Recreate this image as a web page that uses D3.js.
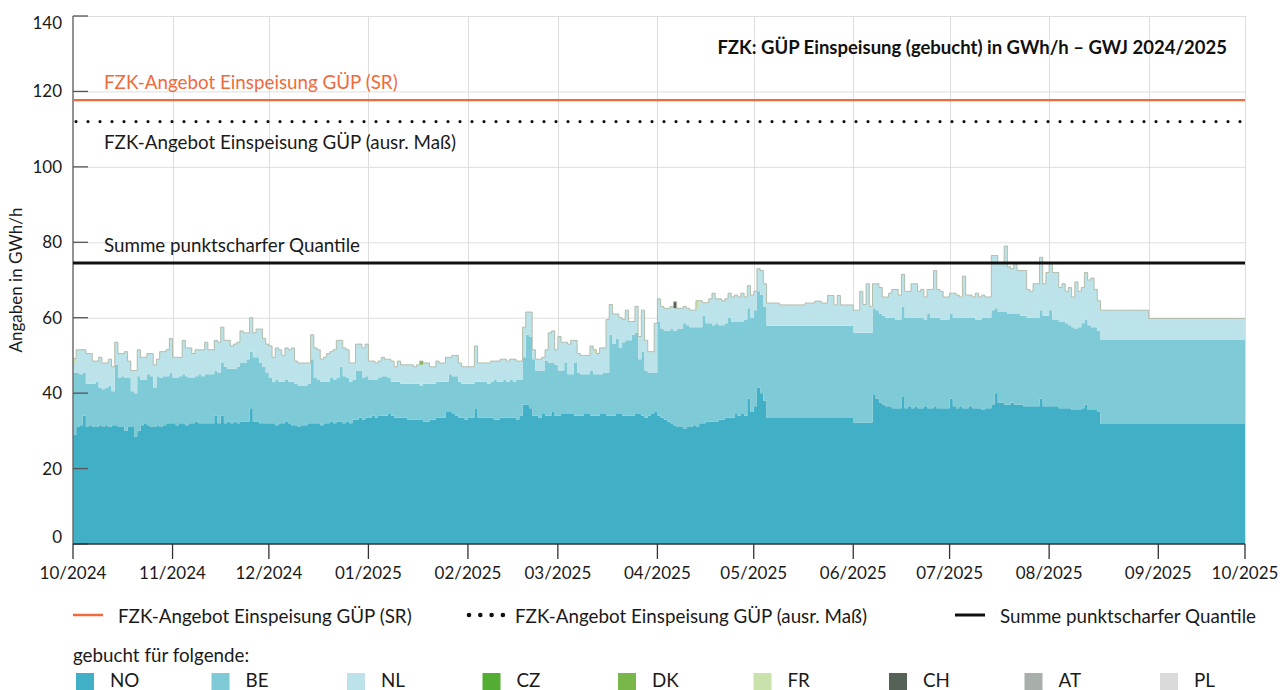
<!DOCTYPE html>
<html lang="de">
<head>
<meta charset="utf-8">
<title>FZK: GÜP Einspeisung (gebucht)</title>
<script src="https://cdn.jsdelivr.net/npm/d3@7/dist/d3.min.js"></script>
<style>
html,body{margin:0;padding:0;background:#fff;}
svg{display:block;font-family:Lato,"Open Sans",sans-serif;}
</style>
</head>
<body>
<svg id="chart" width="1283" height="690"></svg>
<script>
// ================= DATA =================
const startDay = "2024-10-01";
const endDay = "2025-10-01";

// daily booked values (GWh/h), one value per day from 2024-10-01 to 2025-09-30
const NO = [
 29,31,31.5,34,31,31.5,31,31,31.5,31,31.5,31,31.5,31.5,31,31,30,31,31,28.5,30,31.5,32,31.5,31,31,31.5,31,31.5,32,32,
 32,31.5,32,32,31.5,32,32,32.5,32,32,32,32,32,34,32,34,32,32.5,32,32.5,32,32.5,32.5,32.5,36,32.5,32.5,32,32,32,
 32,32,31.5,32,32,32.5,32,31.5,31.5,31,31.5,31.5,32,32,32,32,31.5,32,32,32.5,32,32.5,32.5,32,32.5,32,33,33,33.5,33,33.5,
 33.5,34,33.5,34,34,34,34.5,34,33.5,33.5,33.5,33.5,33,33,33,33,33,32.5,32.5,33,33,33.5,33.5,33.5,35,35,34.5,34,33.5,33.5,33,
 33.5,33.5,36,33.5,33.5,33.5,33.5,33.5,33,33,33.5,33.5,33.5,33.5,33.5,33,34,37,37,36,34,34,33.5,34.5,34,34,35,34,
 34,34.5,34.5,34.5,34.5,34,34,34,34.5,34.5,34,34,34,34.5,34.5,34,34,34,34.5,34.5,34,34,34,34,34.5,34.5,34,33.5,34,34.5,35,
 34,33.5,33,32.5,32,31.5,31,31,30.5,31,31,31.5,31,32,32,32.5,32.5,32.5,32.5,33,33,33.5,33.5,33.5,34.5,34,34.5,34,38.5,35,
 36.5,41.5,40,38,33.4,33.4,33.4,33.4,33.4,33.4,33.4,33.4,33.4,33.4,33.4,33.4,33.4,33.4,33.4,33.4,33.4,33.4,33.4,33.4,33.4,33.4,33.4,33.4,33.4,33.4,33.4,
 32.2,32.2,32.2,32.2,32.2,32.2,39.5,38.5,37.5,37,36.5,36.5,36,36,36,39,36,36.5,36,36.5,36,36,36.5,36,36,36.5,36,36,36,36,
 38.5,36.5,36,36.5,36,36,36.5,36,36,36,35.5,36,36,37,40,37.5,37.5,37,37,37.5,37,37,37,36.5,36.5,36.5,36.5,36.5,38.5,36.5,36.5,
 36.5,36.5,36.5,36,36,36,36,35.5,35.5,35.5,36,37,35.5,35.5,35.5,35,31.8,31.8,31.8,31.8,31.8,31.8,31.8,31.8,31.8,31.8,31.8,31.8,31.8,31.8,31.8,
 31.8,31.8,31.8,31.8,31.8,31.8,31.8,31.8,31.8,31.8,31.8,31.8,31.8,31.8,31.8,31.8,31.8,31.8,31.8,31.8,31.8,31.8,31.8,31.8,31.8,31.8,31.8,31.8,31.8,31.8
];
const BE = [
 16.5,14.5,13.5,11.5,11.5,11,11.5,12,10,10,10,11,9,16,13,13.5,14,13,9.5,11.5,14.5,12,11.5,13.5,13.5,10.5,13,13,13,12.5,13.5,
 12,12.5,12.5,13,13,12,12,12,13,12.5,13,13,13,12,13.5,14,15,14,14.5,14,15,15.5,15.5,16.5,15,17,17,16,15,13.5,
 12,11,12,11,11,11,11,11.5,11,11,10.5,10.5,10.5,17,12,11.5,11.5,11,11,11.5,11.5,11.5,14.5,12.5,11.5,11,10.5,13,12.5,11,11,
 10,9.5,10,10,10.5,10.5,9.5,9,9.5,9.5,9,9,9.5,9.5,9.5,9.5,9,10,10,9.5,9.5,9.5,9.5,9.5,8,10,10,10.5,9.5,9,9.5,
 9,9,7,9.5,9.5,9.5,9,9.5,10.5,10,9.5,10,9.5,10,9.5,10.5,9.5,12.5,18.5,19,15,12,12.5,11.5,14.5,14,13,13.5,
 12,11.5,13.5,10.5,10.5,14,11.5,11,10.5,10.5,12,11,11,10.5,11,11.5,21.5,19,20,17.5,19.5,20,20,21.5,21.5,14.5,17,12.5,11.5,11,10.5,
 25,23.5,23.5,24,25,25,26,26,28,27,26.5,26,26.5,25.5,28.5,26,26,25.5,26,25,25,25,26.5,25.5,24.5,25,24.5,25.5,24,25,
 25.5,25.5,26,25,24.5,24.5,24.5,24.5,24.5,24.5,24.5,24.5,24.5,24.5,24.5,24.5,24.5,24.5,24.5,24.5,24.5,24.5,24.5,24.5,24.5,24.5,24.5,24.5,24.5,24.5,24.5,
 23.8,23.8,23.8,23.8,23.8,23.8,23,23.5,23.5,23.5,23.5,23.5,24,23.5,23.5,24,24,23.5,24,23.5,24,24,23,25,24,23.5,24,23.5,23.5,23.5,
 22.5,23.5,24,23.5,24,24,23.5,24,23.5,23.5,24.5,24,24,25,22.5,24,24,24.5,24,23.5,24,24,23.5,24,23.5,23.5,23.5,23.5,23.5,24,24,
 25.5,23,23,23,23,22.5,22,22,21.5,22,22.5,22.5,22.5,22,22,21.5,22.3,22.3,22.3,22.3,22.3,22.3,22.3,22.3,22.3,22.3,22.3,22.3,22.3,22.3,22.3,
 22.3,22.3,22.3,22.3,22.3,22.3,22.3,22.3,22.3,22.3,22.3,22.3,22.3,22.3,22.3,22.3,22.3,22.3,22.3,22.3,22.3,22.3,22.3,22.3,22.3,22.3,22.3,22.3,22.3,22.3
];
const NL = [
 2.5,6,6.5,6,8,8,6,5.5,8,7,6.5,7,6.5,6,6.5,6,7,4.5,5.5,6,7,6,6,5.5,6,6,4.5,7,6.5,7,9,
 5.5,5.5,5,9,7.5,8,6.5,7,6.5,7,8.5,6.5,6.5,8,8,9.5,7,7.5,6,6.5,6.5,8.5,8,7,9,6.5,7.5,9,7.5,7.5,
 8.5,6.5,8.5,8.5,7,8.5,8.5,9,6,6,6,6,5.5,6.5,8,8,6,6.5,7.5,7,8,10,7,7.5,7.5,5,4.5,7,7,8,8.5,
 5,5,4.5,4.5,5,4.5,5,5.5,4,5.5,5,5,5,5,4.5,5,5.5,5.5,5.5,4.5,4.5,5.5,5,5,6.5,4.5,5.5,5.5,5,4.5,4.5,
 4.5,4.5,9.5,5,5,5,5.5,5.5,5,5.5,6,5.5,5.5,5.5,6,5,5,8,6,6.5,2.5,3,3,3.5,3,8,8.5,4,
 9,7.5,5.5,8,9,6,5,5,5,5,6.5,5.5,5.5,7,6.5,14,8,8,6.5,8,6,8,5,3.5,7,6,11,8,5.5,5.5,13,
 6,6,6,6,6,6,5.5,5.5,4.5,4.5,4.5,4.5,5,7,3.5,5.5,6.5,8.5,6.5,7,6.5,6.5,6.5,6.5,7,6.5,7.5,6,6,6,
 5,6,6.5,6,6,6,6,6,5.5,5.5,5.5,5.5,5.5,5.5,5.5,5.5,6,6,6,6.5,6.5,6,6,8,8,5.5,8,5.5,5.5,5.5,5.5,
 6,6,11,7.5,13,7,6.5,7,7,5,5.5,6.5,7.5,8,6.5,8.5,7,7,9,9,7,7.5,6,6.5,7.5,12.5,7.5,7.5,6,6,
 5.5,6.5,6,5.5,11,6,6,5.5,7,6,6,5.5,5.5,14.5,14,13,13,17.5,12.5,12,13.5,11.5,12,12,7.5,7,9,9,14,8.5,11.5,
 12.5,12.5,12.5,9,10,8.5,10,8,12.5,9.5,9.5,12.5,12,13,10,8,7.9,7.9,7.9,7.9,7.9,7.9,7.9,7.9,7.9,7.9,7.9,7.9,7.9,7.9,7.9,
 5.7,5.7,5.7,5.7,5.7,5.7,5.7,5.7,5.7,5.7,5.7,5.7,5.7,5.7,5.7,5.7,5.7,5.7,5.7,5.7,5.7,5.7,5.7,5.7,5.7,5.7,5.7,5.7,5.7,5.7
];
// small bookings, only on a few days: [date, value]
const CZ = [];
const DK = [["2025-01-17", 1.0]];
const FR = [["2024-10-01", 1.2], ["2025-03-12", 1.0], ["2025-04-13", 2.0]];
const CH = [["2025-04-06", 1.7]];
const AT = [];
const PL = [];

const seriesKeys = ["NO", "BE", "NL", "CZ", "DK", "FR", "CH", "AT", "PL"];
const seriesColors = ["#41b0c6", "#7ecad6", "#bde3ea", "#53ad33", "#7ab74b", "#c9e1aa", "#556258", "#a8aea9", "#d9dad9"];

// reference lines (GWh/h)
const angebotSR = 117.7;
const angebotAusr = 112.0;
const summeQuantile = 74.5;

const yTickValues = [0, 20, 40, 60, 80, 100, 120, 140];
const gridMonths = ["2024-10-01","2024-11-01","2024-12-01","2025-01-01","2025-02-01","2025-03-01","2025-04-01","2025-05-01","2025-06-01","2025-07-01","2025-08-01","2025-09-01","2025-10-01"];
const xTickDates = ["2024-10-01","2024-11-01","2024-12-01","2025-01-01","2025-02-01","2025-03-01","2025-04-01","2025-05-01","2025-06-01","2025-07-01","2025-08-01","2025-09-04","2025-10-01"];
const xTickLabels = ["10/2024","11/2024","12/2024","01/2025","02/2025","03/2025","04/2025","05/2025","06/2025","07/2025","08/2025","09/2025","10/2025"];

const titleText = "FZK: GÜP Einspeisung (gebucht) in GWh/h – GWJ 2024/2025";
const yAxisTitle = "Angaben in GWh/h";
const labelSR = "FZK-Angebot Einspeisung GÜP (SR)";
const labelAusr = "FZK-Angebot Einspeisung GÜP (ausr. Maß)";
const labelSumme = "Summe punktscharfer Quantile";
const legendHeading = "gebucht für folgende:";

// ================= CHART =================
const M = {left: 73, right: 1245, top: 16, bottom: 544};
const FS = 18.8;
const parse = d3.utcParse("%Y-%m-%d");
const svg = d3.select("#chart");

const x = d3.scaleUtc().domain([parse(startDay), parse(endDay)]).range([M.left, M.right]);
const y = d3.scaleLinear().domain([0, 140]).range([M.bottom, M.top]);

const days = d3.utcDay.range(parse(startDay), parse(endDay));
const rows = days.map((d, i) => {
  const r = {date: d, NO: NO[i] || 0, BE: BE[i] || 0, NL: NL[i] || 0};
  ["CZ","DK","FR","CH","AT","PL"].forEach(k => r[k] = 0);
  return r;
});
const smallSeries = {CZ, DK, FR, CH, AT, PL};
Object.entries(smallSeries).forEach(([k, list]) => {
  list.forEach(([ds, v]) => {
    const i = d3.utcDay.count(parse(startDay), parse(ds));
    if (rows[i]) rows[i][k] = v;
  });
});
// closing point so the last day is drawn as a full step
rows.push(Object.assign({}, rows[rows.length - 1], {date: parse(endDay)}));

const stacked = d3.stack().keys(seriesKeys)(rows);

// grid
const grid = svg.append("g");
grid.selectAll("line.h").data(yTickValues.filter(v => v > 0)).join("line")
  .attr("x1", M.left).attr("x2", M.right)
  .attr("y1", d => y(d) + 0.5).attr("y2", d => y(d) + 0.5)
  .attr("stroke", "#dedede").attr("stroke-width", 1);
grid.selectAll("line.v").data(gridMonths.slice(1)).join("line")
  .attr("x1", d => Math.round(x(parse(d))) + 0.5).attr("x2", d => Math.round(x(parse(d))) + 0.5)
  .attr("y1", M.top).attr("y2", M.bottom)
  .attr("stroke", "#dedede").attr("stroke-width", 1);

// stacked step areas
const area = d3.area().curve(d3.curveStepAfter)
  .x(d => x(d.data.date)).y0(d => y(d[0])).y1(d => y(d[1]));
svg.append("g").selectAll("path").data(stacked).join("path")
  .attr("d", area)
  .attr("fill", (d, i) => seriesColors[i]);

// thin outline along the top of the stack
const topLine = d3.line().curve(d3.curveStepAfter)
  .x(d => x(d.date))
  .y(d => y(seriesKeys.reduce((s, k) => s + d[k], 0)));
svg.append("path").datum(rows).attr("d", topLine)
  .attr("fill", "none").attr("stroke", "#aeb7a3").attr("stroke-width", 0.9);

// axes
const axG = svg.append("g");
axG.append("line").attr("x1", M.left).attr("x2", M.left).attr("y1", M.top).attr("y2", M.bottom)
  .attr("stroke", "#6e6e6e").attr("stroke-width", 1.5);
axG.selectAll("line.yt").data(yTickValues).join("line")
  .attr("x1", M.left).attr("x2", M.left + 15)
  .attr("y1", d => y(d)).attr("y2", d => y(d))
  .attr("stroke", "#555").attr("stroke-width", 1.3);
axG.selectAll("text.yl").data(yTickValues).join("text")
  .attr("x", 62).attr("y", d => Math.min(537, Math.max(23, y(d))))
  .attr("dy", "0.35em").attr("text-anchor", "end")
  .attr("font-size", 17).attr("fill", "#1a1a1a").text(d => d);

axG.append("line").attr("x1", M.left).attr("x2", M.right).attr("y1", M.bottom).attr("y2", M.bottom)
  .attr("stroke", "#333").attr("stroke-width", 1.3);
axG.selectAll("line.xt").data(xTickDates).join("line")
  .attr("x1", d => x(parse(d))).attr("x2", d => x(parse(d)))
  .attr("y1", M.bottom).attr("y2", M.bottom + 15)
  .attr("stroke", "#333").attr("stroke-width", 1.3);
axG.selectAll("text.xl").data(xTickDates).join("text")
  .attr("x", d => x(parse(d))).attr("y", 579)
  .attr("text-anchor", "middle").attr("font-size", 17).attr("fill", "#1a1a1a")
  .text((d, i) => xTickLabels[i]);

svg.append("text")
  .attr("transform", "translate(22,280) rotate(-90)")
  .attr("text-anchor", "middle").attr("font-size", 17).attr("fill", "#1a1a1a")
  .text(yAxisTitle);

// reference lines
svg.append("line").attr("x1", M.left).attr("x2", M.right)
  .attr("y1", y(angebotSR)).attr("y2", y(angebotSR))
  .attr("stroke", "#ef6a3d").attr("stroke-width", 2.2);
svg.append("line").attr("x1", M.left + 3).attr("x2", M.right)
  .attr("y1", y(angebotAusr)).attr("y2", y(angebotAusr))
  .attr("stroke", "#111").attr("stroke-width", 3.2)
  .attr("stroke-linecap", "round").attr("stroke-dasharray", "0,12");
svg.append("line").attr("x1", M.left).attr("x2", M.right)
  .attr("y1", y(summeQuantile)).attr("y2", y(summeQuantile))
  .attr("stroke", "#111").attr("stroke-width", 3);

svg.append("text").attr("x", 104).attr("y", y(angebotSR) - 11)
  .attr("font-size", FS).attr("fill", "#ef6a3d").text(labelSR);
svg.append("text").attr("x", 104).attr("y", y(angebotAusr) + 27)
  .attr("font-size", FS).attr("fill", "#1a1a1a").text(labelAusr);
svg.append("text").attr("x", 104).attr("y", y(summeQuantile) - 11)
  .attr("font-size", FS).attr("fill", "#1a1a1a").text(labelSumme);

// title
svg.append("text").attr("x", 1227).attr("y", 54)
  .attr("text-anchor", "end").attr("font-size", 18.5).attr("font-weight", "bold")
  .attr("fill", "#111").text(titleText);

// legend
const lg = svg.append("g");
lg.append("line").attr("x1", 73).attr("x2", 103).attr("y1", 615).attr("y2", 615)
  .attr("stroke", "#ef6a3d").attr("stroke-width", 2.5);
lg.append("text").attr("x", 118).attr("y", 623).attr("font-size", FS).attr("fill", "#1a1a1a").text(labelSR);
lg.append("line").attr("x1", 469).attr("x2", 503).attr("y1", 615).attr("y2", 615)
  .attr("stroke", "#111").attr("stroke-width", 4.6)
  .attr("stroke-linecap", "round").attr("stroke-dasharray", "0,11.3");
lg.append("text").attr("x", 515).attr("y", 623).attr("font-size", FS).attr("fill", "#1a1a1a").text(labelAusr);
lg.append("line").attr("x1", 955).attr("x2", 985).attr("y1", 615).attr("y2", 615)
  .attr("stroke", "#111").attr("stroke-width", 3);
lg.append("text").attr("x", 1000).attr("y", 623).attr("font-size", FS).attr("fill", "#1a1a1a").text(labelSumme);
lg.append("text").attr("x", 73).attr("y", 662).attr("font-size", FS).attr("fill", "#1a1a1a").text(legendHeading);

const item = lg.selectAll("g.item").data(seriesKeys).join("g")
  .attr("transform", (d, i) => `translate(${76 + i * 135.5},673)`);
item.append("rect").attr("width", 18).attr("height", 17).attr("fill", (d, i) => seriesColors[i]);
item.append("text").attr("x", 34).attr("y", 13.5).attr("font-size", FS).attr("fill", "#1a1a1a").text(d => d);
</script>
</body>
</html>
